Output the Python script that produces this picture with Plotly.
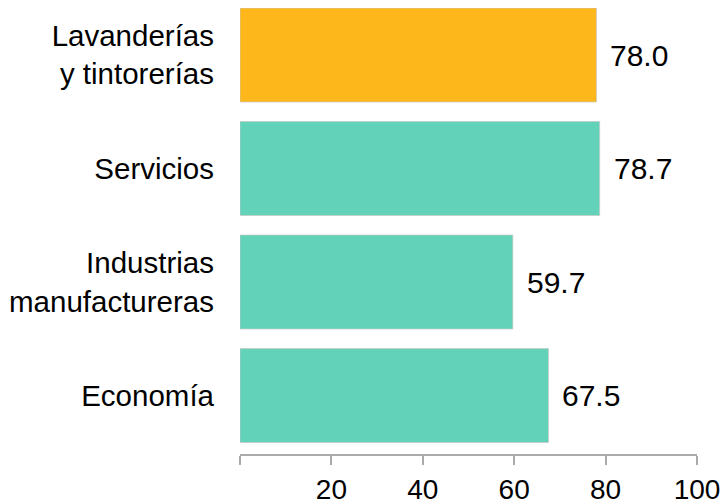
import plotly.graph_objects as go

categories = ["Lavanderías<br>y tintorerías", "Servicios", "Industrias<br>manufactureras", "Economía"]
values = [78.0, 78.7, 59.7, 67.5]
colors = ["#FDB71A", "#62D3B8", "#62D3B8", "#62D3B8"]
tick_vals = [0, 20, 40, 60, 80, 100]
tick_text = ["", "20", "40", "60", "80", "100"]

fig = go.Figure(
    go.Bar(
        x=values,
        y=categories,
        orientation="h",
        marker=dict(color=colors, line=dict(color="rgba(200,200,200,0.7)", width=1)),
    )
)

# value labels, slightly off the bar end
for cat, val in zip(categories, values):
    fig.add_annotation(
        x=val, y=cat, text=f"{val:.1f}", showarrow=False,
        xanchor="left", xshift=12,
        font=dict(size=30, color="#000000"),
    )

# the page body adds an 8px offset, so margins are trimmed to suit
fig.update_layout(
    width=728,
    height=503,
    margin=dict(l=232, r=39, t=0, b=57),
    paper_bgcolor="white",
    plot_bgcolor="white",
    bargap=0.172,
    showlegend=False,
    font=dict(family="Liberation Sans, Arial, sans-serif", size=28, color="#000000"),
)
fig.update_xaxes(
    range=[0, 100],
    tickvals=tick_vals,
    ticktext=tick_text,
    ticks="outside",
    ticklen=9,
    tickcolor="#AAAAAA",
    tickwidth=2,
    showline=True,
    linecolor="#AAAAAA",
    linewidth=2,
    showgrid=False,
    zeroline=False,
    automargin=False,
    ticklabelstandoff=0,
)
fig.update_yaxes(
    range=[3.515, -0.414],
    showgrid=False,
    showline=False,
    ticks="",
    automargin=False,
    ticklabelstandoff=25,
    tickfont=dict(size=29.5),
)

fig.write_html("out.html")
